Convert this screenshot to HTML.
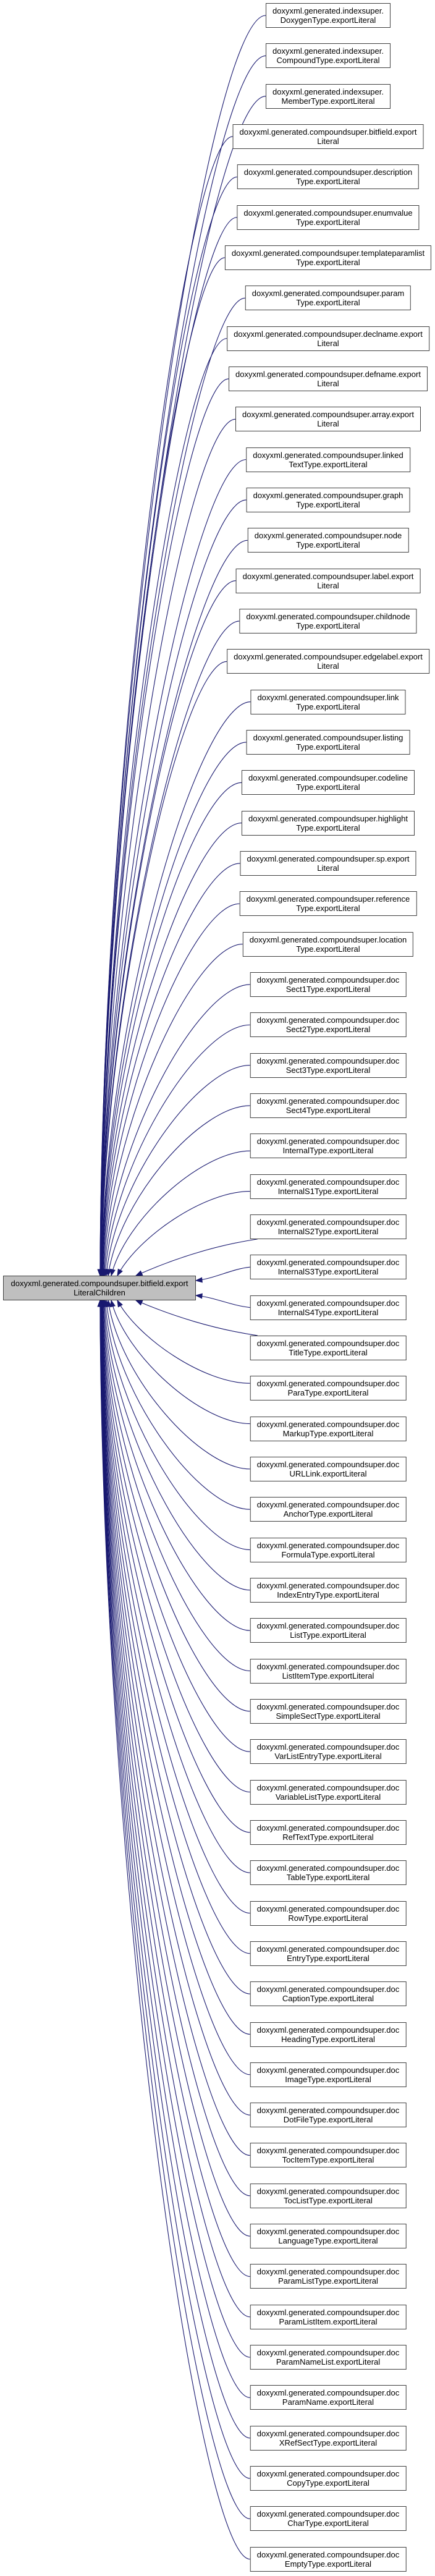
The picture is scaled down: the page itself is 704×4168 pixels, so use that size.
<!DOCTYPE html>
<html><head><meta charset="utf-8">
<style>
html,body{margin:0;padding:0;background:#fff;}
body{width:704px;height:4168px;position:relative;overflow:hidden;font-family:"Liberation Sans",Arial,sans-serif;}
.n{position:absolute;box-sizing:border-box;height:40px;border:1.3px solid #404040;background:#fff;font-size:13px;line-height:15px;text-align:center;white-space:nowrap;padding:4px 10px 0 10px;color:#000;transform:translateX(-50%);}
#main{position:absolute;left:5px;top:2064px;width:312px;height:40px;box-sizing:border-box;border:1.3px solid #404040;background:#bfbfbf;font-size:13px;line-height:15px;text-align:center;padding-top:4px;white-space:nowrap;}
svg{position:absolute;left:0;top:0;}
</style></head><body>
<svg id="s" width="704" height="4168"></svg>
<div id="main">doxyxml.generated.compoundsuper.bitfield.export<br>LiteralChildren</div>
<div id="nodes"></div>
<script>
var L=[["indexsuper.","DoxygenType.exportLiteral"],["indexsuper.","CompoundType.exportLiteral"],["indexsuper.","MemberType.exportLiteral"],
["compoundsuper.bitfield.export","Literal"],["compoundsuper.description","Type.exportLiteral"],["compoundsuper.enumvalue","Type.exportLiteral"],
["compoundsuper.templateparamlist","Type.exportLiteral"],["compoundsuper.param","Type.exportLiteral"],["compoundsuper.declname.export","Literal"],
["compoundsuper.defname.export","Literal"],["compoundsuper.array.export","Literal"],["compoundsuper.linked","TextType.exportLiteral"],
["compoundsuper.graph","Type.exportLiteral"],["compoundsuper.node","Type.exportLiteral"],["compoundsuper.label.export","Literal"],
["compoundsuper.childnode","Type.exportLiteral"],["compoundsuper.edgelabel.export","Literal"],["compoundsuper.link","Type.exportLiteral"],
["compoundsuper.listing","Type.exportLiteral"],["compoundsuper.codeline","Type.exportLiteral"],["compoundsuper.highlight","Type.exportLiteral"],
["compoundsuper.sp.export","Literal"],["compoundsuper.reference","Type.exportLiteral"],["compoundsuper.location","Type.exportLiteral"]];
var D=["Sect1Type","Sect2Type","Sect3Type","Sect4Type","InternalType","InternalS1Type","InternalS2Type","InternalS3Type","InternalS4Type","TitleType","ParaType","MarkupType","URLLink","AnchorType","FormulaType","IndexEntryType","ListType","ListItemType","SimpleSectType","VarListEntryType","VariableListType","RefTextType","TableType","RowType","EntryType","CaptionType","HeadingType","ImageType","DotFileType","TocItemType","TocListType","LanguageType","ParamListType","ParamListItem","ParamNameList","ParamName","XRefSectType","CopyType","CharType","EmptyType"];
D.forEach(function(d){L.push(["compoundsuper.doc",d+".exportLiteral"]);});
var host=document.getElementById('nodes'),els=[];
L.forEach(function(p,k){var e=document.createElement('div');e.className='n';e.style.left='531px';e.style.top=(5+65.33*k)+'px';
e.innerHTML='doxyxml.generated.'+p[0]+'<br>'+p[1];host.appendChild(e);els.push(e);});
var svg=document.getElementById('s'),h='',C='#191970';
els.forEach(function(e,k){
 var r=e.getBoundingClientRect(),x0=r.left,cy=r.top+20,ex,ey,c1x,c1y,c2x,c2y;
 var up=k<=31,d=up?31-k:k-32;
 if(d==0){ex=317;ey=up?2072:2096;c1x=x0-30;c1y=cy+(up?1:-1)*3;c2x=ex+30;c2y=ey+(up?-3:3);}
 else{
  if(d==1){x0+=12;cy+=up?20:-20;}
  else if(d<=3){cy+=up?8:-8;}
  ex=160+60/d;ey=up?2064:2104;var dy=Math.abs(ey-cy);
  c1x=x0-0.35*(x0-ex);c1y=cy+(d==1?(up?10:-10):0);c2x=ex+(x0-ex)*0.3/d;c2y=up?ey-0.45*dy:ey+0.45*dy;}
 h+='<path d="M'+x0+','+cy+' C'+c1x+','+c1y+' '+c2x+','+c2y+' '+ex+','+ey+'" fill="none" stroke="'+C+'" stroke-width="1.1"/>';
 var tx=ex-c2x,ty=ey-c2y,l=Math.sqrt(tx*tx+ty*ty);tx/=l;ty/=l;
 var bx=ex-tx*10,by=ey-ty*10,nx=-ty*3.8,ny=tx*3.8;
 h+='<polygon points="'+ex+','+ey+' '+(bx+nx)+','+(by+ny)+' '+(bx-nx)+','+(by-ny)+'" fill="'+C+'" stroke="'+C+'"/>';
});
svg.innerHTML=h;
</script>
</body></html>
